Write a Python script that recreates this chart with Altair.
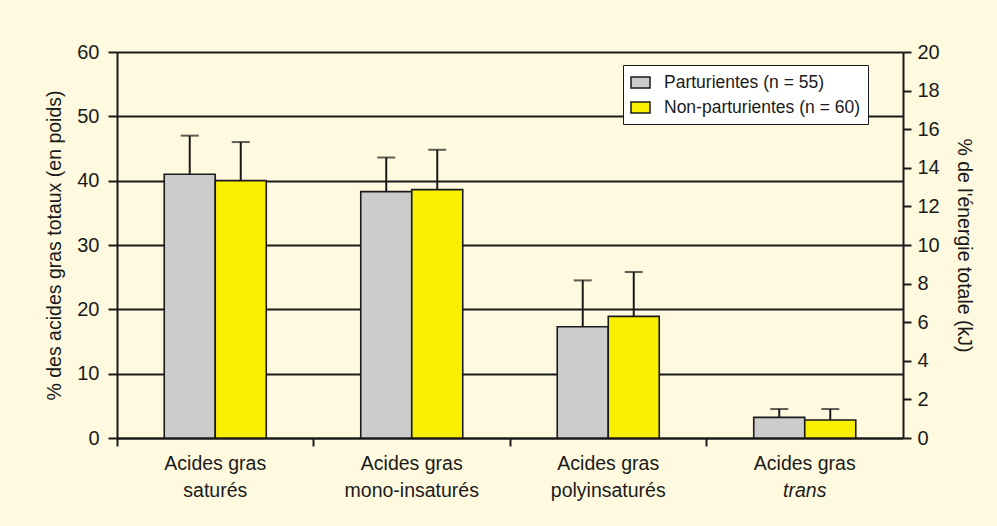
import altair as alt
import pandas as pd

# Categories and their two-line labels
categories = [
    "Acides gras saturés",
    "Acides gras mono-insaturés",
    "Acides gras polyinsaturés",
    "Acides gras trans",
]
label_line1 = ["Acides gras", "Acides gras", "Acides gras", "Acides gras"]
label_line2 = ["saturés", "mono-insaturés", "polyinsaturés", "trans"]

# Groups (legend order)
groups = ["Parturientes (n = 55)", "Non-parturientes (n = 60)"]
group_colors = ["#CCCCCC", "#F9F000"]

# Means (% of total fatty acids by weight) and standard deviations
parturientes = [41.0, 38.3, 17.3, 3.2]
parturientes_sd = [6.0, 5.3, 7.2, 1.3]
non_parturientes = [40.0, 38.6, 18.9, 2.8]
non_parturientes_sd = [6.0, 6.2, 6.9, 1.7]

rows = []
for cat, v, sd in zip(categories, parturientes, parturientes_sd):
    rows.append({"cat": cat, "group": groups[0], "value": v, "upper": v + sd})
for cat, v, sd in zip(categories, non_parturientes, non_parturientes_sd):
    rows.append({"cat": cat, "group": groups[1], "value": v, "upper": v + sd})
df = pd.DataFrame(rows)

labels = pd.DataFrame({"cat": categories, "line1": label_line1, "line2": label_line2})

DARK = "#1a1a1a"
FONT = "Liberation Sans"

x_enc = alt.X(
    "cat:N",
    sort=categories,
    scale=alt.Scale(domain=categories, paddingInner=0, paddingOuter=0),
    axis=alt.Axis(labels=False, title=None, bandPosition=0, tickSize=8),
)
xoff_enc = alt.XOffset(
    "group:N",
    sort=groups,
    scale=alt.Scale(domain=groups, paddingInner=0, paddingOuter=0.926),
)
y_scale = alt.Scale(domain=[0, 60], nice=False)
y_axis = alt.Axis(
    values=list(range(0, 61, 10)),
    grid=True,
    tickSize=9,
    labelPadding=9,
    title="% des acides gras totaux (en poids)",
    titlePadding=12,
)

bars = alt.Chart(df).mark_bar(stroke=DARK, strokeWidth=1.6).encode(
    x=x_enc,
    xOffset=xoff_enc,
    y=alt.Y("value:Q", scale=y_scale, axis=y_axis),
    color=alt.Color(
        "group:N",
        scale=alt.Scale(domain=groups, range=group_colors),
        legend=alt.Legend(title=None),
    ),
)

err_rules = alt.Chart(df).mark_rule(color=DARK, strokeWidth=2).encode(
    x=x_enc,
    xOffset=xoff_enc,
    y=alt.Y("value:Q", scale=y_scale, axis=y_axis),
    y2="upper:Q",
)

err_caps = alt.Chart(df).mark_tick(
    color=DARK, orient="horizontal", size=18, thickness=2
).encode(
    x=x_enc,
    xOffset=xoff_enc,
    y=alt.Y("upper:Q", scale=y_scale, axis=y_axis),
)

text_style = dict(fontSize=19.5, font=FONT, color=DARK, baseline="alphabetic", align="center")

lab1 = alt.Chart(labels).mark_text(**text_style).encode(
    x=x_enc, y=alt.value(418), text="line1:N"
)
lab2 = (
    alt.Chart(labels)
    .transform_filter("datum.line2 != 'trans'")
    .mark_text(**text_style)
    .encode(x=x_enc, y=alt.value(445), text="line2:N")
)
lab2_italic = (
    alt.Chart(labels)
    .transform_filter("datum.line2 == 'trans'")
    .mark_text(fontStyle="italic", **text_style)
    .encode(x=x_enc, y=alt.value(445), text="line2:N")
)

# Main panel: bars, error bars and category labels share the left scale
main = alt.layer(bars, err_rules, err_caps, lab1, lab2, lab2_italic)

# Secondary scale: % of total energy
right_axis = alt.Chart(df).mark_point(opacity=0).encode(
    y=alt.YDatum(
        0,
        type="quantitative",
        scale=alt.Scale(domain=[0, 20], nice=False),
        axis=alt.Axis(
            orient="right",
            values=list(range(0, 21, 2)),
            grid=False,
            tickSize=8,
            labelPadding=6,
            title="% de l'énergie totale (kJ)",
            titlePadding=14,
        ),
    )
)

chart = (
    alt.layer(main, right_axis)
    .resolve_scale(y="independent")
    .properties(
        width=786,
        height=386,
        autosize=alt.AutoSizeParams(type="none"),
        padding={"left": 117, "top": 52, "right": 94, "bottom": 88},
        background="#FFFADF",
    )
    .configure_view(stroke=None)
    .configure_axis(
        domainColor=DARK,
        domainWidth=2,
        tickColor=DARK,
        tickWidth=2,
        gridColor=DARK,
        gridWidth=2,
        gridOpacity=1,
        labelColor=DARK,
        titleColor=DARK,
        labelFont=FONT,
        titleFont=FONT,
        labelFontSize=20,
        titleFontSize=19.5,
        titleFontWeight="normal",
    )
    .configure_legend(
        orient="none",
        legendX=506,
        legendY=13,
        fillColor="white",
        strokeColor=DARK,
        padding=7,
        symbolType="M-1,-0.58H1V0.58H-1Z",
        symbolSize=361,
        symbolStrokeColor=DARK,
        symbolStrokeWidth=1.5,
        symbolOpacity=1,
        labelFont=FONT,
        labelFontSize=17.5,
        labelColor=DARK,
        labelOffset=13,
        labelLimit=400,
        rowPadding=5,
    )
)

chart.save("out.html", embed_options={"renderer": "svg", "actions": False})
